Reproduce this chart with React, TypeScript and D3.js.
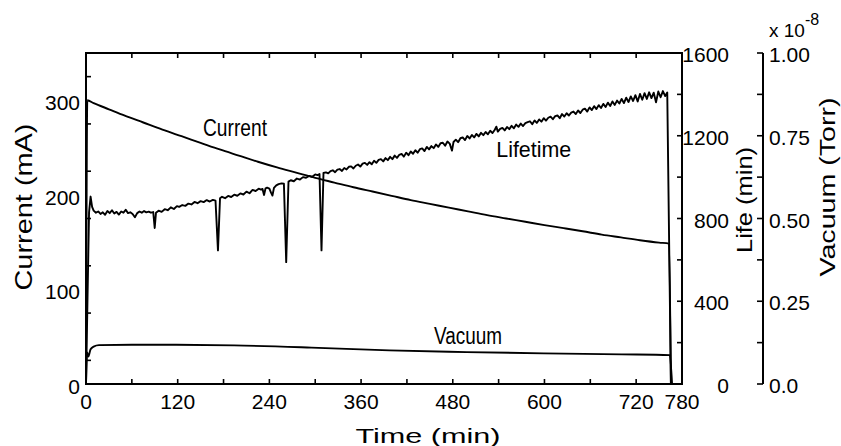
import React from 'react';
import * as d3 from 'd3';

// ---- data (time in min) ----
const currentData: [number, number][] = [
  [0, 0], [1.7, 300], [10, 297], [30, 290.5], [50, 284], [75, 276.5], [100, 269], [125, 262],
  [150, 255], [175, 248], [200, 241.5], [225, 235], [250, 229], [275, 223.5], [300, 218],
  [325, 213], [350, 208], [375, 203.5], [400, 199], [425, 194.5], [450, 190.5], [475, 186.5],
  [500, 182.5], [525, 178.5], [550, 175], [575, 171.5], [600, 168], [625, 164.8], [650, 161.5],
  [675, 158], [700, 155], [725, 152], [750, 149.5], [763, 148.5], [765.5, 0],
];

const lifetimeData: [number, number][] = [
  [0, 0], [2, 420], [4, 830], [6, 906], [8, 856], [10, 838], [13, 828], [16, 834], [19, 822],
  [22, 830], [25, 818], [28, 836], [31, 826], [34, 840], [37, 824], [40, 832], [43, 819],
  [46, 834], [49, 828], [52, 842], [55, 826], [58, 830], [61, 822], [64, 806], [67, 826],
  [70, 834], [73, 828], [76, 836], [79, 830], [82, 833], [85, 828], [88, 831], [89.9, 754],
  [91.6, 828], [95, 838], [99, 832], [103, 845], [107, 840], [111, 854], [115, 846], [119, 860],
  [122, 856], [126, 865], [130, 861], [134, 872], [138, 868], [142, 880], [146, 874], [150, 884],
  [154, 879], [158, 889], [162, 882], [166, 890], [169.5, 886], [172.7, 646], [175.4, 898],
  [178, 905], [182, 898], [186, 909], [190, 904], [194, 915], [198, 910], [202, 921], [206, 916],
  [210, 930], [214, 922], [218, 938], [222, 933], [226, 944], [229, 940], [231, 943], [233, 914],
  [235, 946], [237, 949], [240, 944], [242, 926], [244, 911], [246, 948], [249, 960], [252, 966],
  [256, 970], [259, 968], [262, 589], [265, 978], [268, 985], [272, 980], [276, 993], [280, 988],
  [284, 1000], [288, 997], [292, 1006], [296, 1002], [300, 1013], [303, 1010], [305.6, 1015],
  [308.2, 646], [310.8, 1020], [314, 1023], [317, 1018], [320, 1029], [323, 1033], [326, 1024],
  [329, 1036], [332, 1039], [335, 1030], [338, 1044], [341, 1037], [344, 1050], [347, 1052],
  [350, 1042], [353, 1055], [356, 1061], [359, 1051], [362, 1065], [365, 1069], [368, 1059],
  [371, 1072], [374, 1062], [377, 1079], [380, 1069], [383, 1083], [386, 1087], [389, 1076],
  [392, 1092], [395, 1082], [398, 1098], [401, 1087], [404, 1104], [407, 1093], [410, 1108],
  [413, 1112], [416, 1099], [419, 1118], [422, 1106], [425, 1124], [428, 1113], [431, 1130],
  [434, 1118], [437, 1135], [440, 1139], [443, 1126], [446, 1146], [449, 1134], [452, 1150],
  [455, 1140], [458, 1158], [461, 1146], [464, 1164], [467, 1166], [470, 1152], [473, 1172],
  [476, 1162], [479, 1128], [481, 1170], [484, 1181], [487, 1169], [490, 1188], [493, 1192],
  [496, 1179], [499, 1199], [502, 1187], [505, 1204], [508, 1192], [511, 1209], [514, 1197],
  [517, 1214], [520, 1203], [523, 1218], [526, 1207], [529, 1224], [532, 1213], [535, 1229],
  [537, 1244], [539, 1220], [542, 1233], [545, 1238], [548, 1226], [551, 1242], [554, 1232],
  [557, 1248], [560, 1236], [563, 1254], [566, 1243], [569, 1259], [572, 1247], [575, 1261],
  [578, 1266], [581, 1270], [584, 1256], [587, 1274], [590, 1262], [593, 1279], [596, 1268],
  [599, 1285], [602, 1273], [605, 1287], [608, 1292], [611, 1280], [614, 1295], [617, 1298],
  [620, 1285], [623, 1305], [626, 1293], [629, 1309], [632, 1298], [635, 1312], [638, 1317],
  [641, 1305], [644, 1322], [647, 1310], [650, 1326], [653, 1331], [656, 1317], [659, 1337],
  [662, 1324], [665, 1343], [668, 1329], [671, 1348], [674, 1334], [677, 1354], [680, 1339],
  [683, 1360], [686, 1344], [689, 1366], [692, 1349], [695, 1370], [698, 1356], [701, 1378],
  [704, 1358], [707, 1384], [710, 1363], [713, 1390], [716, 1368], [719, 1396], [722, 1366],
  [725, 1402], [728, 1374], [731, 1406], [734, 1378], [737, 1410], [740, 1382], [743, 1408],
  [746, 1362], [749, 1414], [752, 1386], [755, 1416], [758, 1392], [760.7, 1409], [765.5, 0],
];

const vacuumData: [number, number][] = [
  [0, 0], [1.5, 0.095], [3, 0.083], [6, 0.105], [10, 0.113], [17, 0.1175], [60, 0.1185],
  [118, 0.1184], [194, 0.1166], [295, 0.110], [397, 0.1015], [498, 0.0964], [599, 0.0925],
  [701, 0.0895], [764, 0.0873], [767, 0],
];

const xTicks = [0, 60, 120, 180, 240, 300, 360, 420, 480, 540, 600, 660, 720, 780];
const xTickLabels = [0, 120, 240, 360, 480, 600, 720, 780];
const currentTickLabels = [0, 100, 200, 300];
const currentMinorTicks = [25, 75, 125, 175, 225, 275, 325];
const lifeTicks = [0, 200, 400, 600, 800, 1000, 1200, 1400, 1600];
const lifeTickLabels = [0, 400, 800, 1200, 1600];
const vacTicks = [0, 0.125, 0.25, 0.375, 0.5, 0.625, 0.75, 0.875, 1];
const vacTickLabels = [0, 0.25, 0.5, 0.75, 1];

const FONT = 'Liberation Sans, Arial, sans-serif';

export default function App() {
  const x = d3.scaleLinear().domain([0, 780]).range([86, 682]);
  const yCur = d3.scaleLinear().domain([0, 350]).range([384, 53]);
  const yLife = d3.scaleLinear().domain([0, 1600]).range([384, 53]);
  const yVac = d3.scaleLinear().domain([0, 1]).range([384, 53]);

  const curLine = d3.line<[number, number]>().x(d => x(d[0])).y(d => yCur(d[1])).curve(d3.curveMonotoneX);
  const lifeLine = d3.line<[number, number]>().x(d => x(d[0])).y(d => yLife(d[1]));
  const vacLine = d3.line<[number, number]>().x(d => x(d[0])).y(d => yVac(d[1])).curve(d3.curveMonotoneX);

  const left = x(0), right = x(780), top = yCur(350), bottom = yCur(0);
  const vacAxisX = 763;
  const sw = 1.9;

  return (
    <svg width={841} height={446} style={{ position: 'absolute', left: 0, top: 0, background: '#fff' }}
      fontFamily={FONT}>
      <rect x={0} y={0} width={841} height={446} fill="#fff" />
      <rect x={left} y={top} width={right - left} height={bottom - top} fill="none" stroke="#000" strokeWidth={2} />
      {xTicks.map(t => (
        <g key={'xt' + t}>
          <line x1={x(t)} x2={x(t)} y1={bottom} y2={bottom - 5} stroke="#000" strokeWidth={1.6} />
          <line x1={x(t)} x2={x(t)} y1={top} y2={top + 5} stroke="#000" strokeWidth={1.6} />
        </g>
      ))}
      {xTickLabels.map(t => (
        <text key={'xl' + t} x={x(t)} y={409} textAnchor="middle" fontSize={21}>{t}</text>
      ))}
      {currentMinorTicks.map(v => (
        <line key={'cm' + v} x1={left} x2={left + 5} y1={yCur(v)} y2={yCur(v)} stroke="#000" strokeWidth={1.6} />
      ))}
      {currentTickLabels.map(v => (
        <text key={'cl' + v} x={80} y={yCur(v) + 10} textAnchor="end" fontSize={21}>{v}</text>
      ))}
      {lifeTicks.map(v => (
        <line key={'lt' + v} x1={right} x2={right - 5} y1={yLife(v)} y2={yLife(v)} stroke="#000" strokeWidth={1.6} />
      ))}
      {lifeTickLabels.map(v => (
        <text key={'ll' + v} x={729} y={yLife(v) + 9} textAnchor="end" fontSize={21}>{v}</text>
      ))}
      <line x1={vacAxisX} x2={vacAxisX} y1={yVac(0)} y2={yVac(1)} stroke="#000" strokeWidth={2} />
      {vacTicks.map(v => (
        <line key={'vt' + v} x1={vacAxisX - 6} x2={vacAxisX} y1={yVac(v)} y2={yVac(v)} stroke="#000" strokeWidth={1.6} />
      ))}
      {vacTickLabels.map(v => (
        <text key={'vl' + v} x={769} y={yVac(v) + 9} textAnchor="start" fontSize={21}>
          {v === 0 ? '0.0' : v.toFixed(2)}
        </text>
      ))}
      <text x={769} y={37} fontSize={19}>x 10<tspan dy={-12} fontSize={16}>-8</tspan></text>

      <path d={curLine(currentData) || ''} fill="none" stroke="#000" strokeWidth={sw} strokeLinejoin="round" />
      <path d={lifeLine(lifetimeData) || ''} fill="none" stroke="#000" strokeWidth={sw} strokeLinejoin="round" />
      <path d={vacLine(vacuumData) || ''} fill="none" stroke="#000" strokeWidth={sw} strokeLinejoin="round" />

      <text x={x(195)} y={yCur(262.5)} textAnchor="middle" fontSize={23} textLength={64} lengthAdjust="spacingAndGlyphs">Current</text>
      <text x={x(586)} y={yLife(1099)} textAnchor="middle" fontSize={22} textLength={75} lengthAdjust="spacingAndGlyphs">Lifetime</text>
      <text x={x(500)} y={yVac(0.12)} textAnchor="middle" fontSize={23} textLength={68} lengthAdjust="spacingAndGlyphs">Vacuum</text>

      <text x={428} y={443} textAnchor="middle" fontSize={21} textLength={145} lengthAdjust="spacingAndGlyphs">Time  (min)</text>
      <text transform="translate(32,207) rotate(-90)" textAnchor="middle" fontSize={24} textLength={167} lengthAdjust="spacingAndGlyphs">Current  (mA)</text>
      <text transform="translate(752,200) rotate(-90)" textAnchor="middle" fontSize={22} textLength={106} lengthAdjust="spacingAndGlyphs">Life  (min)</text>
      <text transform="translate(835,187) rotate(-90)" textAnchor="middle" fontSize={22} textLength={179} lengthAdjust="spacingAndGlyphs">Vacuum  (Torr)</text>
    </svg>
  );
}
